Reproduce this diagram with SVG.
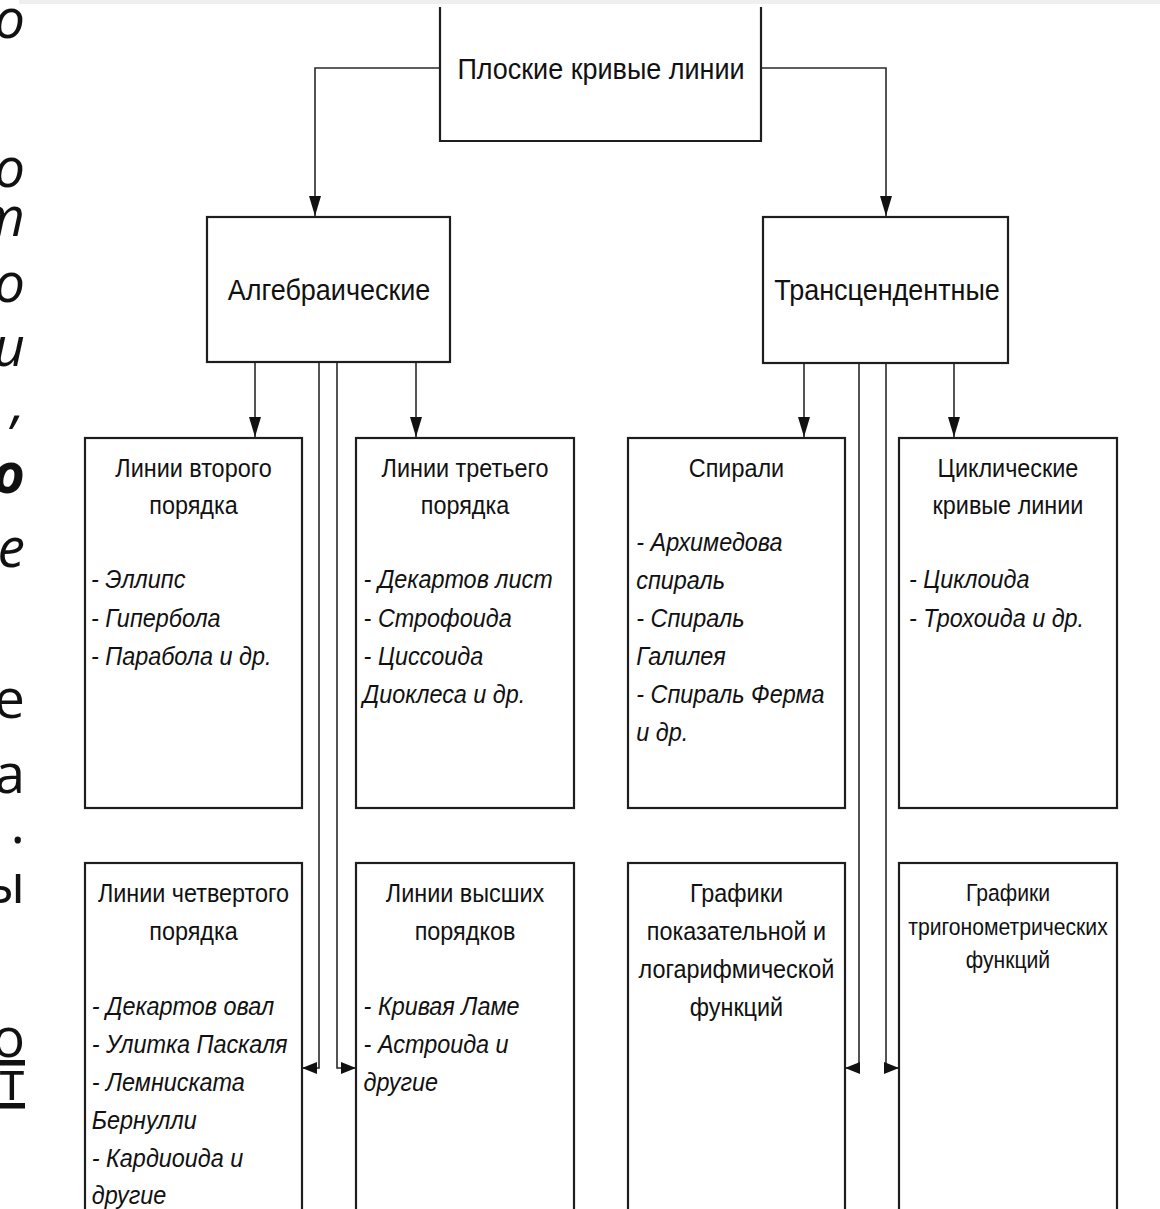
<svg xmlns="http://www.w3.org/2000/svg" width="1160" height="1209" viewBox="0 0 1160 1209">
<defs>
<style>
.box{fill:#fff;stroke:#1e1e1e;stroke-width:2.2}
.con{fill:none;stroke:#2a2a2a;stroke-width:1.6}
.t{font-family:"Liberation Sans",Arial,sans-serif;fill:#111}
.big{font-size:30px;text-anchor:middle}
.hd{font-size:26px;text-anchor:middle}
.hs{font-size:23.5px;text-anchor:middle}
.it{font-size:26px;font-style:italic}
.frag{font-family:"Open Sans","Liberation Sans",sans-serif;font-size:55px;fill:#111;text-anchor:end}
.fi{font-style:italic}
</style>
<marker id="arr" markerUnits="userSpaceOnUse" markerWidth="20" markerHeight="12" refX="20" refY="6" orient="auto">
<path d="M0,0 L20,6 L0,12 z" fill="#111"/>
</marker>
<marker id="arrs" markerUnits="userSpaceOnUse" markerWidth="15" markerHeight="12" refX="15" refY="6" orient="auto">
<path d="M0,0 L15,6 L0,12 z" fill="#111"/>
</marker>
</defs>
<rect x="0" y="0" width="1160" height="1209" fill="#fff"/>
<rect x="19" y="0" width="1141" height="4" fill="#efefef"/>

<g id="fragments">
<text class="frag fi" x="25" y="38">о</text>
<text class="frag fi" x="25" y="187">о</text>
<text class="frag fi" x="25" y="236">т</text>
<text class="frag fi" x="25" y="302">о</text>
<text class="frag fi" x="25" y="366">и</text>
<text class="frag fi" x="25" y="422">,</text>
<text class="frag fi" x="25" y="493" font-weight="bold">о</text>
<text class="frag fi" x="25" y="567">е</text>
<text class="frag" x="25" y="718">е</text>
<text class="frag" x="25" y="793">а</text>
<text class="frag" x="25" y="843">.</text>
<text class="frag" x="25" y="903">ы</text>
<text class="frag" x="25" y="1057" text-decoration="underline">о</text>
<text class="frag" x="25" y="1100" text-decoration="underline">т</text>
</g>

<g id="connectors">
<path class="con" d="M440,68 H315 V216" marker-end="url(#arr)"/>
<path class="con" d="M761,68 H886 V216" marker-end="url(#arr)"/>
<path class="con" d="M255,362 V437" marker-end="url(#arr)"/>
<path class="con" d="M416,362 V437" marker-end="url(#arr)"/>
<path class="con" d="M319,362 V1068 H302" marker-end="url(#arrs)"/>
<path class="con" d="M337,362 V1068 H356" marker-end="url(#arrs)"/>
<path class="con" d="M804,363 V437" marker-end="url(#arr)"/>
<path class="con" d="M954,363 V437" marker-end="url(#arr)"/>
<path class="con" d="M859,363 V1068 H845" marker-end="url(#arrs)"/>
<path class="con" d="M886,363 V1068 H899" marker-end="url(#arrs)"/>
</g>

<g id="root">
<path class="box" d="M440,7 V141 H761 V7"/>
<g transform="scale(0.9 1)"><text class="t big" x="667.8" y="79" font-size="29.5">Плоские кривые линии</text></g>
</g>

<g id="algebraic">
<rect class="box" x="207" y="217" width="243" height="145"/>
<g transform="scale(0.9 1)"><text class="t big" x="365.6" y="300">Алгебраические</text></g>
</g>

<g id="transcendental">
<rect class="box" x="763" y="217" width="245" height="146"/>
<g transform="scale(0.9 1)"><text class="t big" x="985.6" y="300">Трансцендентные</text></g>
</g>

<g id="second-order">
<rect class="box" x="85" y="438" width="217" height="370"/>
<g transform="scale(0.9 1)">
<text class="t hd" x="215" y="477">Линии второго</text>
<text class="t hd" x="215" y="514">порядка</text>
<text class="t it" x="101" y="588">- Эллипс</text>
<text class="t it" x="101" y="627">- Гипербола</text>
<text class="t it" x="101" y="665">- Парабола и др.</text>
</g>
</g>

<g id="third-order">
<rect class="box" x="356" y="438" width="218" height="370"/>
<g transform="scale(0.9 1)">
<text class="t hd" x="516.7" y="477">Линии третьего</text>
<text class="t hd" x="516.7" y="514">порядка</text>
<text class="t it" x="404" y="588">- Декартов лист</text>
<text class="t it" x="404" y="627">- Строфоида</text>
<text class="t it" x="404" y="665">- Циссоида</text>
<text class="t it" x="403" y="703">Диоклеса и др.</text>
</g>
</g>

<g id="spirals">
<rect class="box" x="628" y="438" width="217" height="370"/>
<g transform="scale(0.9 1)">
<text class="t hd" x="818.3" y="477">Спирали</text>
<text class="t it" x="707" y="551">- Архимедова</text>
<text class="t it" x="707" y="589">спираль</text>
<text class="t it" x="707" y="627">- Спираль</text>
<text class="t it" x="707" y="665">Галилея</text>
<text class="t it" x="707" y="703">- Спираль Ферма</text>
<text class="t it" x="707" y="741">и др.</text>
</g>
</g>

<g id="cyclic">
<rect class="box" x="899" y="438" width="218" height="370"/>
<g transform="scale(0.9 1)">
<text class="t hd" x="1120" y="477">Циклические</text>
<text class="t hd" x="1120" y="514">кривые линии</text>
<text class="t it" x="1010" y="588">- Циклоида</text>
<text class="t it" x="1010" y="627">- Трохоида и др.</text>
</g>
</g>

<g id="fourth-order">
<rect class="box" x="85" y="863" width="217" height="370"/>
<g transform="scale(0.9 1)">
<text class="t hd" x="215" y="902">Линии четвертого</text>
<text class="t hd" x="215" y="940">порядка</text>
<text class="t it" x="102" y="1015">- Декартов овал</text>
<text class="t it" x="102" y="1053">- Улитка Паскаля</text>
<text class="t it" x="102" y="1091">- Лемниската</text>
<text class="t it" x="102" y="1129">Бернулли</text>
<text class="t it" x="102" y="1167">- Кардиоида и</text>
<text class="t it" x="102" y="1204">другие</text>
</g>
</g>

<g id="higher-order">
<rect class="box" x="356" y="863" width="218" height="370"/>
<g transform="scale(0.9 1)">
<text class="t hd" x="516.7" y="902">Линии высших</text>
<text class="t hd" x="516.7" y="940">порядков</text>
<text class="t it" x="404" y="1015">- Кривая Ламе</text>
<text class="t it" x="404" y="1053">- Астроида и</text>
<text class="t it" x="404" y="1091">другие</text>
</g>
</g>

<g id="exp-log">
<rect class="box" x="628" y="863" width="217" height="370"/>
<g transform="scale(0.9 1)">
<text class="t hd" x="818.3" y="902">Графики</text>
<text class="t hd" x="818.3" y="940">показательной и</text>
<text class="t hd" x="818.3" y="978">логарифмической</text>
<text class="t hd" x="818.3" y="1016">функций</text>
</g>
</g>

<g id="trig">
<rect class="box" x="899" y="863" width="218" height="370"/>
<g transform="scale(0.9 1)">
<text class="t hs" x="1120" y="901">Графики</text>
<text class="t hs" x="1120" y="935">тригонометрических</text>
<text class="t hs" x="1120" y="968">функций</text>
</g>
</g>
</svg>
